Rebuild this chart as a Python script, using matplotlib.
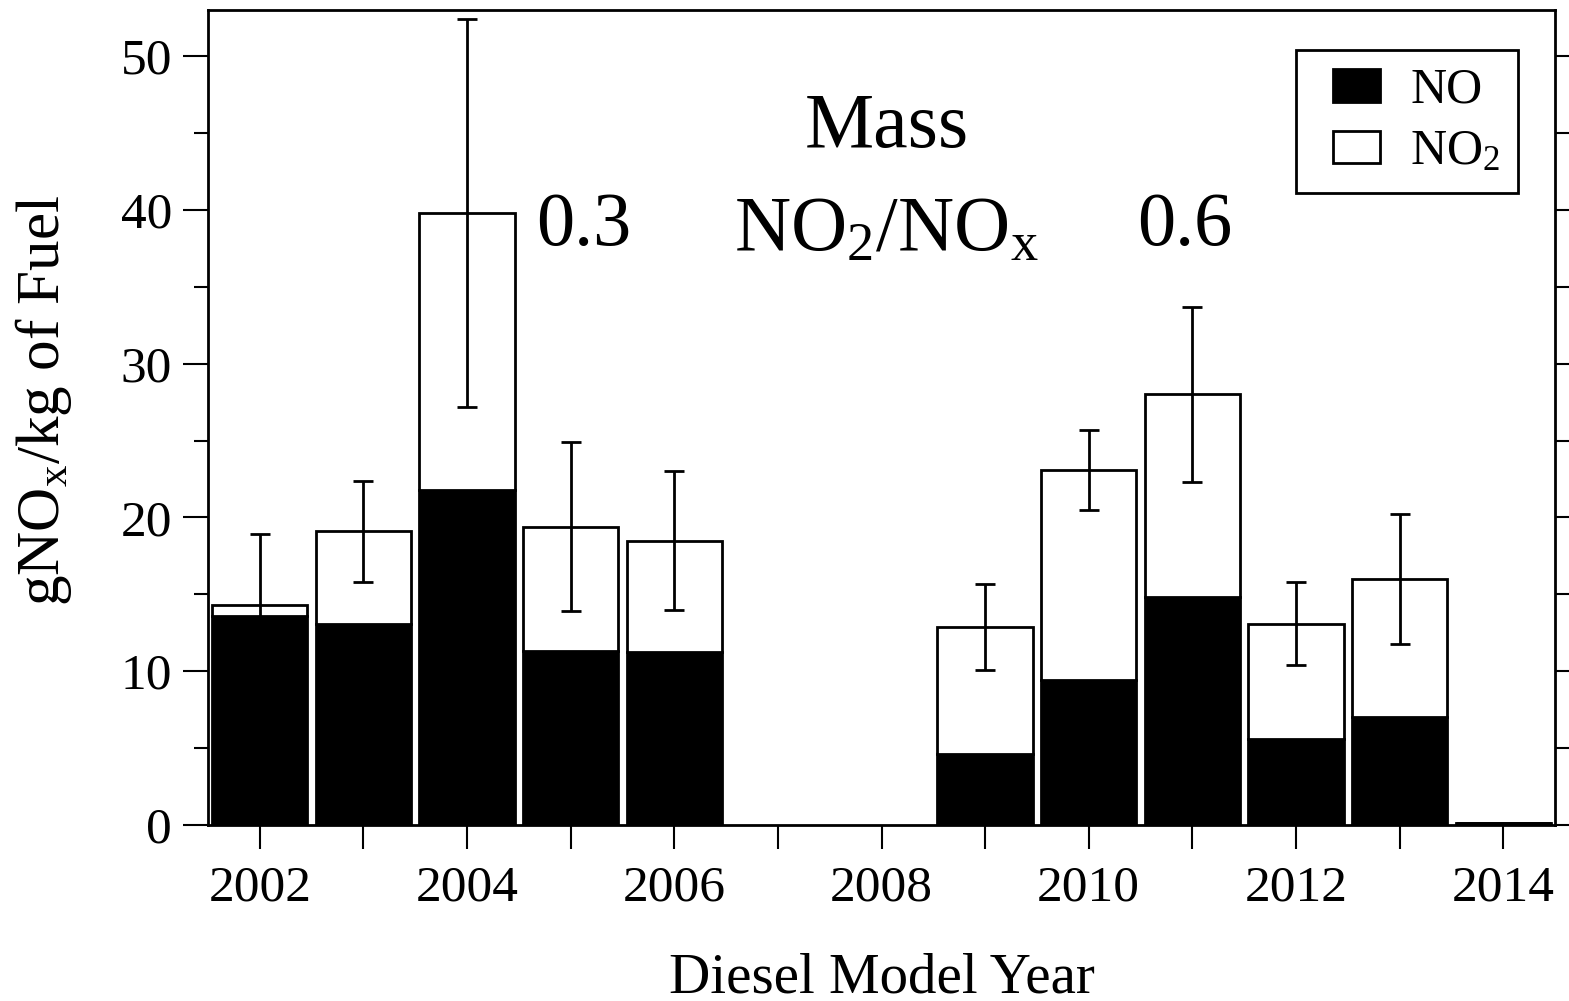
import numpy as np
import matplotlib
matplotlib.use("Agg")
import matplotlib.pyplot as plt
from matplotlib.patches import Rectangle
from matplotlib.container import BarContainer
from matplotlib.legend_handler import HandlerPatch, update_from_first_child

plt.rcParams['font.family'] = ['Liberation Serif', 'DejaVu Serif']
plt.rcParams['mathtext.fontset'] = 'custom'
plt.rcParams['mathtext.rm'] = 'Liberation Serif'
plt.rcParams['mathtext.it'] = 'Liberation Serif'

# data
years = [2002, 2003, 2004, 2005, 2006, 2009, 2010, 2011, 2012, 2013, 2014]
no_vals = [13.6, 13.1, 21.8, 11.3, 11.25, 4.6, 9.4, 14.8, 5.6, 7.0, 0.15]
totals = [14.3, 19.1, 39.8, 19.4, 18.5, 12.9, 23.1, 28.0, 13.1, 16.0, 0.15]
errs = [4.6, 3.3, 12.6, 5.5, 4.5, 2.8, 2.6, 5.7, 2.7, 4.2, 0.0]

no2_vals = [t - n for t, n in zip(totals, no_vals)]

fig = plt.figure(figsize=(15.69, 10.01), dpi=100)
ax = fig.add_axes([208/1569, 1 - 825/1001, (1555 - 208)/1569, (825 - 10)/1001])

w = 0.92
ax.bar(years, no_vals, width=w, color='black', edgecolor='black', linewidth=2, label='NO')
ax.bar(years, no2_vals, bottom=no_vals, width=w, color='white', edgecolor='black',
       linewidth=2, label='NO$_2$')

ey = [y for y, e in zip(years, errs) if e > 0]
et = [t for t, e in zip(totals, errs) if e > 0]
ee = [e for e in errs if e > 0]
ax.errorbar(ey, et, yerr=ee, fmt='none', ecolor='black', elinewidth=2,
            capsize=7, capthick=2)

ax.set_xlim(2001.5, 2014.5)
ax.set_ylim(0, 53)

ax.set_xticks(range(2002, 2015, 2))
ax.set_xticks(range(2003, 2015, 2), minor=True)
ax.set_yticks(range(0, 51, 10))
ax.set_yticks(range(5, 51, 10), minor=True)

ax.tick_params(axis='both', which='both', direction='out', width=1.5, labelsize=37)
ax.tick_params(axis='x', which='both', length=17, pad=12, top=False)
ax.tick_params(axis='y', which='major', length=18, pad=8, right=True)
ax.tick_params(axis='y', which='minor', length=10, right=True)

for s in ax.spines.values():
    s.set_linewidth(2)

ax.set_xlabel('Diesel Model Year', fontsize=41, labelpad=29)
ax.set_ylabel('gNO$_\\mathrm{x}$/kg of Fuel', fontsize=44)
ax.yaxis.set_label_coords(-0.0995, 0.521)

ax.text(2008.05, 45.3, 'Mass', fontsize=56, ha='center', va='center')
ax.text(2008.05, 38.6, 'NO$_2$/NO$_\\mathrm{x}$', fontsize=56, ha='center', va='center')
ax.text(2005.13, 38.9, '0.3', fontsize=55, ha='center', va='center')
ax.text(2010.93, 38.9, '0.6', fontsize=55, ha='center', va='center')


def right_box(legend, orig_handle, xdescent, ydescent, width, height, fontsize):
    rw = 34
    return Rectangle((-xdescent + width - rw, -ydescent), rw, height)


leg = ax.legend(loc='upper right', bbox_to_anchor=(0.9725, 0.951), fontsize=36,
                fancybox=False, edgecolor='black', framealpha=1,
                handlelength=1.33, handleheight=0.62, labelspacing=0.3,
                handletextpad=0.6, borderpad=0.35, borderaxespad=0,
                handler_map={BarContainer: HandlerPatch(patch_func=right_box,
                                                        update_func=update_from_first_child)})
leg.get_frame().set_linewidth(2)

fig.savefig('out.png', dpi=100)
